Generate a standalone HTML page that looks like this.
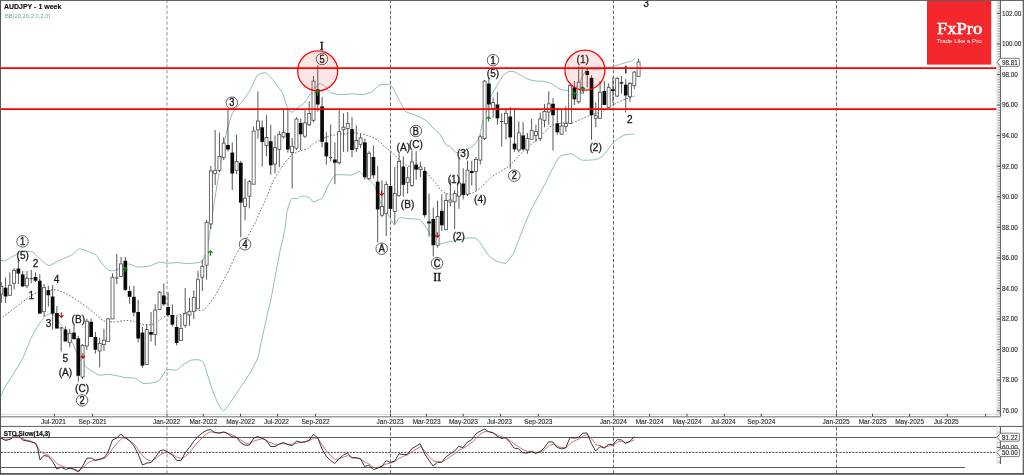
<!DOCTYPE html>
<html lang="en"><head><meta charset="utf-8"><title>AUDJPY - 1 week</title>
<style>
html,body{margin:0;padding:0;background:#fff;}
body{width:1024px;height:475px;overflow:hidden;}
svg{display:block;}
</style></head><body>
<svg width="1024" height="475" viewBox="0 0 1024 475" font-family="'Liberation Sans', Arial, sans-serif">
<rect width="1024" height="475" fill="#fff"/>
<g stroke="#5a5a5a" stroke-width="0.9" stroke-dasharray="3.5 1.9" fill="none">
<line x1="167" y1="-0.3" x2="167" y2="414" stroke-opacity="0.72"/>
<line x1="167" y1="427" x2="167" y2="473" stroke-opacity="0.72"/>
<line x1="390.5" y1="-0.3" x2="390.5" y2="414"/>
<line x1="390.5" y1="427" x2="390.5" y2="473"/>
<line x1="613.5" y1="-0.3" x2="613.5" y2="414"/>
<line x1="613.5" y1="427" x2="613.5" y2="473"/>
<line x1="836.5" y1="-0.3" x2="836.5" y2="414"/>
<line x1="836.5" y1="427" x2="836.5" y2="473"/>
</g>
<g fill="none" stroke-linejoin="round" stroke-linecap="round">
<path d="M0 260.1 C0.5 260.18 3.75 261.27 5 260.9 C6.25 260.53 10.75 257.3 12.5 256.4 C14.25 255.5 20.49 252.35 22.5 251.9 C24.51 251.45 30.85 251.2 32.6 251.9 C34.35 252.6 38.38 257.53 40 258.9 C41.62 260.27 46.79 265.48 48.8 265.6 C50.81 265.72 57.72 261.2 60.1 260.1 C62.48 259 70.72 255.73 72.6 254.6 C74.48 253.47 77.52 249.17 78.9 248.8 C80.28 248.43 84.9 250.39 86.4 250.9 C87.9 251.41 92.94 253.49 93.9 253.9 C94.86 254.31 95.16 254 96 255 C96.84 256 101.04 262.38 102.3 263.9 C103.56 265.42 107.21 269.57 108.6 270.2 C109.99 270.83 114.3 270.83 116.2 270.2 C118.1 269.57 125.45 264.22 127.6 263.9 C129.75 263.58 135.43 266.81 137.7 267 C139.97 267.19 148.15 266.3 150.3 265.8 C152.45 265.3 157.55 262.25 159.2 262 C160.85 261.75 165.03 263.24 166.8 263.3 C168.57 263.36 174.63 262.57 176.9 262.6 C179.17 262.63 186.98 263.72 189.5 263.6 C192.02 263.48 200.58 262.26 202.1 261.4 C203.62 260.54 204.19 256.14 204.7 255 C205.21 253.86 206.13 256 207.2 250 C208.27 244 213.62 206.1 215.4 195 C217.18 183.9 223.28 147.24 225 139 C226.72 130.76 230.84 116.36 232.6 112.6 C234.36 108.84 240.85 103.65 242.6 101.4 C244.35 99.15 248.6 92.73 250.1 90.1 C251.6 87.47 255.97 76.8 257.6 75.1 C259.23 73.4 264.63 72.31 266.4 73.1 C268.17 73.89 273.66 80.93 275.3 83 C276.94 85.07 281.59 91.33 282.8 93.8 C284.01 96.27 286.5 105.86 287.4 107.7 C288.3 109.54 290.85 112.13 291.8 112.2 C292.75 112.27 295.76 109.22 296.9 108.4 C298.04 107.58 301.81 105.46 303.2 104 C304.59 102.54 309.22 95.82 310.8 93.8 C312.38 91.78 317.68 84.62 319 83.8 C320.32 82.98 322.87 84.72 324 85.6 C325.13 86.48 328.67 91.7 330.3 92.6 C331.93 93.5 338.05 94.47 340.3 94.6 C342.55 94.73 350.55 93.9 352.8 93.9 C355.05 93.9 360.8 94.85 362.8 94.6 C364.8 94.35 371.17 92.35 372.8 91.4 C374.43 90.45 377.34 85.73 379.1 85.1 C380.86 84.47 388.77 84.35 390.4 85.1 C392.03 85.85 394.4 90.85 395.4 92.6 C396.4 94.35 399.4 100.72 400.4 102.6 C401.4 104.48 403.9 110.14 405.4 111.4 C406.9 112.66 413.39 114.32 415.4 115.2 C417.41 116.08 423.49 118.7 425.5 120.2 C427.51 121.7 434.05 128.8 435.5 130.2 C436.95 131.6 439.23 133.22 440 134.2 C440.77 135.18 442.57 138.92 443.2 140 C443.83 141.08 445.61 144.37 446.3 145 C446.99 145.63 449.21 145.6 450.1 146.3 C450.99 147 454.13 151.37 455.2 152 C456.27 152.63 459.54 152.92 460.8 152.6 C462.06 152.28 466.6 149.43 467.8 148.8 C469 148.17 471.79 147.18 472.8 146.3 C473.81 145.42 477.22 140.98 477.9 140 C478.58 139.02 479.09 138.47 479.6 136.5 C480.11 134.53 482.22 123.19 483 120.3 C483.78 117.41 486.65 109.93 487.4 107.6 C488.15 105.27 489.68 98.96 490.5 97 C491.32 95.04 494.33 90.16 495.6 88 C496.87 85.84 501.87 77.04 503.2 75.4 C504.53 73.76 507.83 71.98 508.9 71.6 C509.97 71.22 512.7 71.22 513.9 71.6 C515.1 71.98 519.45 74.62 520.9 75.4 C522.35 76.18 526.89 78.84 528.4 79.4 C529.91 79.96 534.48 80.8 536 81 C537.52 81.2 542.08 81.14 543.6 81.4 C545.12 81.66 549.68 82.88 551.2 83.6 C552.72 84.32 557.16 87.91 558.8 88.6 C560.44 89.29 565.84 90.7 567.6 90.5 C569.36 90.3 574.63 88.5 576.4 86.6 C578.17 84.7 584.16 73.26 585.3 71.5 C586.44 69.74 586.54 69.19 587.8 69 C589.06 68.81 595.38 69.86 597.9 69.6 C600.42 69.34 610.47 67.03 613 66.4 C615.53 65.77 621.42 63.8 623.2 63.3 C624.98 62.8 629.66 61.85 630.8 61.4 C631.94 60.95 634.22 59.06 634.6 58.8" stroke="#7fb3b3" stroke-width="0.9"/>
<path d="M0 397.9 C0.5 396.83 3.74 389.47 5 387.2 C6.26 384.93 10.89 377.97 12.6 375.2 C14.31 372.43 20.66 362.22 22.1 359.5 C23.54 356.78 26.06 350.22 27 348 C27.94 345.78 30.6 339.2 31.5 337.3 C32.4 335.4 35.05 330.58 36 329 C36.95 327.42 40.1 322.78 41 321.5 C41.9 320.22 44.24 316.93 45 316.2 C45.76 315.47 47.8 314.4 48.6 314.2 C49.4 314 51.92 313.37 53 314.2 C54.08 315.03 57.62 320.02 59.4 322.5 C61.18 324.98 68.91 335.59 70.8 339 C72.69 342.41 76.79 353.82 78.3 356.6 C79.81 359.38 84.13 365.09 85.9 366.8 C87.67 368.51 94.59 372.86 96 373.7 C97.41 374.54 98.72 375.13 100 375.2 C101.28 375.27 106.8 374.28 108.8 374.4 C110.8 374.52 118.38 376.07 120 376.4 C121.62 376.73 123.49 377.52 125 377.7 C126.51 377.88 133.34 377.65 135.1 378.2 C136.86 378.75 141.1 382.7 142.6 383.2 C144.1 383.7 148.47 383.45 150.1 383.2 C151.73 382.95 157.4 381.88 158.9 380.7 C160.4 379.52 164.1 372.53 165.1 371.4 C166.1 370.27 167.77 369.53 168.9 369.4 C170.03 369.27 175.02 370.53 176.4 370.1 C177.78 369.67 181.2 366.1 182.7 365.1 C184.2 364.1 189.65 360.6 191.4 360.1 C193.15 359.6 198.94 359.72 200.2 360.1 C201.46 360.48 203.25 362.39 204 363.9 C204.75 365.41 206.95 372.82 207.7 375.2 C208.45 377.58 210.5 384.95 211.5 387.7 C212.5 390.45 216.53 400.37 217.7 402.7 C218.87 405.03 221.94 411 223.2 411 C224.46 411 228.59 405.03 230.3 402.7 C232.01 400.37 238.3 390.71 240.3 387.7 C242.3 384.69 248.55 375.61 250.3 372.6 C252.05 369.59 256.55 361.35 257.8 357.6 C259.05 353.85 261.8 339.61 262.8 335.1 C263.8 330.59 267 316.01 267.8 312.5 C268.6 308.99 269.66 305.75 270.8 300 C271.94 294.25 277.93 261.4 279.2 255 C280.47 248.6 282.87 239 283.5 236 C284.13 233 285.14 227.46 285.5 225 C285.86 222.54 286.63 213.77 287.1 211.4 C287.57 209.03 289.7 202.59 290.2 201.3 C290.7 200.01 291.34 198.78 292.1 198.5 C292.86 198.22 296.98 198.72 297.8 198.5 C298.62 198.28 299.54 196.52 300.3 196.3 C301.06 196.08 304.45 196.15 305.4 196.3 C306.35 196.45 309.01 197.23 309.8 197.8 C310.59 198.37 312.32 201.84 313.3 202 C314.28 202.16 318.67 199.86 319.6 199.4 C320.53 198.94 321.66 198.92 322.6 197.4 C323.54 195.88 327.8 186.41 329 184.2 C330.2 181.99 333.34 176.25 334.6 175.3 C335.86 174.35 339.89 174.73 341.6 174.7 C343.31 174.67 349.93 175.32 351.7 175 C353.47 174.68 358.04 171.34 359.3 171.5 C360.56 171.66 363.29 175.71 364.3 176.6 C365.31 177.49 368.39 179.52 369.4 180.4 C370.41 181.28 373.52 183.76 374.4 185.4 C375.28 187.04 377.47 194.83 378.2 196.8 C378.93 198.77 380.72 203.38 381.7 205.1 C382.68 206.82 386.74 212.04 388 214 C389.26 215.96 393.16 224.33 394.3 224.7 C395.44 225.07 398.26 218.33 399.4 217.7 C400.54 217.07 404.06 218.27 405.7 218.4 C407.34 218.53 414.28 218.81 415.8 219 C417.32 219.19 419.76 219.29 420.9 220.3 C422.04 221.31 425.94 227.21 427.2 229.1 C428.46 230.99 432.36 237.68 433.5 239.2 C434.64 240.72 437.34 243.98 438.6 244.3 C439.86 244.62 444.33 242.78 446.1 242.4 C447.87 242.02 454.15 240.94 456.3 240.5 C458.45 240.06 465.65 238.22 467.6 238 C469.55 237.78 474.46 237.7 475.8 238.3 C477.14 238.9 479.73 242.3 481 244 C482.27 245.7 487 253.6 488.5 255.3 C490 257 494.45 260.21 496 261 C497.55 261.79 503.03 262.95 504 263.2 C504.97 263.45 505.3 263.77 505.7 263.5 C506.1 263.23 507.2 261.57 508 260.5 C508.8 259.43 512.05 256.35 513.7 252.8 C515.35 249.25 522.77 229.28 524.5 225 C526.23 220.72 529.85 212.45 531 210 C532.15 207.55 534.61 203.09 536 200.5 C537.39 197.91 543.13 187.51 544.9 184.1 C546.67 180.69 552.19 169.18 553.7 166.4 C555.21 163.62 558.61 157.5 560 156.3 C561.39 155.1 566.34 154.63 567.6 154.4 C568.86 154.17 571.21 153.44 572.6 154 C573.99 154.56 579.1 159.46 581.5 160 C583.9 160.54 594.33 159.97 596.6 159.4 C598.87 158.83 602.56 155.94 604.2 154.3 C605.84 152.66 611.1 144.89 613 143 C614.9 141.11 621.1 136.31 623.2 135.4 C625.3 134.49 632.92 134.05 634 133.9" stroke="#7fb3b3" stroke-width="0.9"/>
<path d="M0 319 C1.5 317.87 12 309.96 15 307.7 C18 305.44 27.74 297.9 30 296.4 C32.26 294.9 35.21 293.37 37.6 292.7 C39.99 292.03 51.15 289.65 53.9 289.7 C56.65 289.75 62.97 292.27 65.1 293.2 C67.23 294.13 72.94 297.55 75.2 299 C77.46 300.45 85.62 306.15 87.7 307.7 C89.78 309.25 94.41 313.19 96 314.5 C97.59 315.81 101.7 320.05 103.6 320.8 C105.5 321.55 112.86 322.04 115 322 C117.14 321.96 123.1 320.46 125 320.4 C126.9 320.34 132.22 320.98 134 321.4 C135.78 321.82 141.04 324.28 142.8 324.6 C144.56 324.92 149.96 325.04 151.6 324.6 C153.24 324.16 157.68 321.09 159.2 320.2 C160.72 319.31 165.03 316.15 166.8 315.7 C168.57 315.25 175.13 315.95 176.9 315.7 C178.67 315.45 182.73 313.7 184.5 313.2 C186.27 312.7 192.71 311.02 194.6 310.7 C196.49 310.38 202.01 310.57 203.4 310 C204.79 309.43 207.3 306.48 208.5 305 C209.7 303.52 213.62 298.18 215.4 295.2 C217.18 292.22 224.21 279.33 226.3 275.2 C228.39 271.07 234.33 257.47 236.3 253.9 C238.27 250.33 244.18 242.49 246 239.5 C247.82 236.51 253 227 254.5 224 C256 221 259.69 212.4 261 209.5 C262.31 206.6 266.41 197.78 267.6 195 C268.79 192.22 271.61 184.3 272.9 181.7 C274.19 179.1 278.99 171.27 280.5 169 C282.01 166.73 286.74 160.51 288 159 C289.26 157.49 291.83 154.73 293.1 153.9 C294.37 153.07 299.18 151.27 300.7 150.7 C302.22 150.13 307.04 148.89 308.3 148.2 C309.56 147.51 311.87 144.76 313.3 143.8 C314.73 142.84 320.78 139.44 322.6 138.6 C324.42 137.76 329.6 135.84 331.5 135.4 C333.4 134.96 339.58 134.45 341.6 134.2 C343.62 133.95 349.81 132.97 351.7 132.9 C353.59 132.83 358.73 133.19 360.5 133.5 C362.27 133.81 367.63 135.3 369.4 136 C371.17 136.7 376.56 139.3 378.2 140.5 C379.84 141.7 384.53 146.92 385.8 148 C387.07 149.08 389.63 150.21 390.9 151.3 C392.17 152.39 396.99 157.51 398.5 158.9 C400.01 160.29 404.49 164.38 406 165.2 C407.51 166.02 411.83 166.66 413.6 167.1 C415.37 167.54 422.06 168.65 423.7 169.6 C425.34 170.55 428.61 175.02 430 176.6 C431.39 178.18 436.6 184.14 437.6 185.4 C438.6 186.66 439.13 188.38 440 189.2 C440.87 190.02 444.78 193.03 446.3 193.6 C447.82 194.17 453.3 194.77 455.2 194.9 C457.1 195.03 463.41 195.16 465.3 194.9 C467.19 194.64 472.46 193.13 474.1 192.3 C475.74 191.47 480.06 188.05 481.7 186.6 C483.34 185.15 488.73 179.25 490.5 177.8 C492.27 176.35 497.5 173.3 499.4 172.1 C501.3 170.9 507.61 167.38 509.5 165.8 C511.39 164.22 516.91 157.75 518.3 156.3 C519.69 154.85 522.38 152.25 523.4 151.3 C524.42 150.35 526.98 148.13 528.5 146.8 C530.02 145.47 536.71 139.77 538.6 138 C540.49 136.23 545.89 130.43 547.4 129.1 C548.91 127.77 551.68 125.39 553.7 124.7 C555.72 124.01 565.71 122.4 567.6 122.2 C569.49 122 570.46 123.34 572.6 122.7 C574.74 122.06 585.84 117 589 115.8 C592.16 114.6 601.8 111.78 604.2 110.7 C606.6 109.62 611.1 106.07 613 105 C614.9 103.93 621.04 100.89 623.2 100 C625.36 99.11 633.46 96.49 634.6 96.1" stroke="#4c6464" stroke-width="0.9" stroke-dasharray="1.6 1.7" stroke-linecap="butt"/>
</g>
<g>
<line x1="1.3" y1="282" x2="1.3" y2="303" stroke="#444" stroke-width="0.9"/>
<rect x="-0.2" y="286.4" width="3" height="7.6" fill="#fff" stroke="#4a4a4a" stroke-width="0.8"/>
<line x1="5.58" y1="277.5" x2="5.58" y2="303" stroke="#444" stroke-width="0.9"/>
<rect x="3.73" y="287.7" width="3.7" height="8.8" fill="#0a0a0a"/>
<line x1="9.85" y1="272.5" x2="9.85" y2="295.3" stroke="#444" stroke-width="0.9"/>
<rect x="8.35" y="285.2" width="3" height="10.1" fill="#fff" stroke="#4a4a4a" stroke-width="0.8"/>
<line x1="14.13" y1="268" x2="14.13" y2="289.6" stroke="#444" stroke-width="0.9"/>
<rect x="12.63" y="270.5" width="3" height="12.8" fill="#fff" stroke="#4a4a4a" stroke-width="0.8"/>
<line x1="18.41" y1="258.5" x2="18.41" y2="284" stroke="#444" stroke-width="0.9"/>
<rect x="16.56" y="268.6" width="3.7" height="5" fill="#0a0a0a"/>
<line x1="22.69" y1="271" x2="22.69" y2="287" stroke="#444" stroke-width="0.9"/>
<rect x="20.84" y="274.4" width="3.7" height="12" fill="#0a0a0a"/>
<line x1="26.96" y1="271" x2="26.96" y2="288.3" stroke="#444" stroke-width="0.9"/>
<rect x="25.46" y="278.2" width="3" height="7.6" fill="#fff" stroke="#4a4a4a" stroke-width="0.8"/>
<line x1="31.24" y1="270" x2="31.24" y2="283.3" stroke="#444" stroke-width="0.9"/>
<line x1="29.54" y1="278.6" x2="32.94" y2="278.6" stroke="#444" stroke-width="1"/>
<line x1="35.52" y1="272.4" x2="35.52" y2="282" stroke="#444" stroke-width="0.9"/>
<rect x="33.67" y="277" width="3.7" height="3.7" fill="#0a0a0a"/>
<line x1="39.79" y1="274.3" x2="39.79" y2="313.6" stroke="#444" stroke-width="0.9"/>
<rect x="37.94" y="280.7" width="3.7" height="32.9" fill="#0a0a0a"/>
<line x1="44.07" y1="284" x2="44.07" y2="316.8" stroke="#444" stroke-width="0.9"/>
<rect x="42.57" y="287.7" width="3" height="24" fill="#fff" stroke="#4a4a4a" stroke-width="0.8"/>
<line x1="48.35" y1="285.8" x2="48.35" y2="306.6" stroke="#444" stroke-width="0.9"/>
<rect x="46.5" y="290.2" width="3.7" height="5.1" fill="#0a0a0a"/>
<line x1="52.62" y1="285.2" x2="52.62" y2="329.5" stroke="#444" stroke-width="0.9"/>
<rect x="50.77" y="296.5" width="3.7" height="17.1" fill="#0a0a0a"/>
<line x1="56.9" y1="306" x2="56.9" y2="328.5" stroke="#444" stroke-width="0.9"/>
<rect x="55.05" y="313" width="3.7" height="15.5" fill="#0a0a0a"/>
<line x1="61.18" y1="327" x2="61.18" y2="351.6" stroke="#444" stroke-width="0.9"/>
<line x1="59.48" y1="328" x2="62.88" y2="328" stroke="#444" stroke-width="1"/>
<line x1="65.45" y1="326.3" x2="65.45" y2="341.5" stroke="#444" stroke-width="0.9"/>
<rect x="63.6" y="329.5" width="3.7" height="12" fill="#0a0a0a"/>
<line x1="69.73" y1="328.8" x2="69.73" y2="347.2" stroke="#444" stroke-width="0.9"/>
<rect x="68.23" y="333.3" width="3" height="9.4" fill="#fff" stroke="#4a4a4a" stroke-width="0.8"/>
<line x1="74.01" y1="325" x2="74.01" y2="339.2" stroke="#444" stroke-width="0.9"/>
<rect x="72.16" y="332.6" width="3.7" height="6.6" fill="#0a0a0a"/>
<line x1="78.29" y1="335.8" x2="78.29" y2="381.5" stroke="#444" stroke-width="0.9"/>
<rect x="76.44" y="338.3" width="3.7" height="37.5" fill="#0a0a0a"/>
<line x1="82.56" y1="344" x2="82.56" y2="379" stroke="#444" stroke-width="0.9"/>
<rect x="81.06" y="345.3" width="3" height="31.7" fill="#fff" stroke="#4a4a4a" stroke-width="0.8"/>
<line x1="86.84" y1="318.6" x2="86.84" y2="350" stroke="#444" stroke-width="0.9"/>
<rect x="85.34" y="321.2" width="3" height="24.8" fill="#fff" stroke="#4a4a4a" stroke-width="0.8"/>
<line x1="91.12" y1="318.6" x2="91.12" y2="337" stroke="#444" stroke-width="0.9"/>
<rect x="89.27" y="321.8" width="3.7" height="15.2" fill="#0a0a0a"/>
<line x1="95.39" y1="332" x2="95.39" y2="353.5" stroke="#444" stroke-width="0.9"/>
<rect x="93.54" y="337" width="3.7" height="12.7" fill="#0a0a0a"/>
<line x1="99.67" y1="337.7" x2="99.67" y2="367.4" stroke="#444" stroke-width="0.9"/>
<rect x="98.17" y="343.4" width="3" height="7.6" fill="#fff" stroke="#4a4a4a" stroke-width="0.8"/>
<line x1="103.95" y1="328.8" x2="103.95" y2="351" stroke="#444" stroke-width="0.9"/>
<rect x="102.45" y="340.2" width="3" height="4.4" fill="#fff" stroke="#4a4a4a" stroke-width="0.8"/>
<line x1="108.22" y1="318" x2="108.22" y2="341.5" stroke="#444" stroke-width="0.9"/>
<rect x="106.72" y="318.9" width="3" height="22.6" fill="#fff" stroke="#4a4a4a" stroke-width="0.8"/>
<line x1="112.5" y1="273.4" x2="112.5" y2="318.9" stroke="#444" stroke-width="0.9"/>
<rect x="111" y="277.2" width="3" height="41.7" fill="#fff" stroke="#4a4a4a" stroke-width="0.8"/>
<line x1="116.78" y1="253.8" x2="116.78" y2="284.1" stroke="#444" stroke-width="0.9"/>
<line x1="115.08" y1="278" x2="118.48" y2="278" stroke="#444" stroke-width="1"/>
<line x1="121.06" y1="257" x2="121.06" y2="277" stroke="#444" stroke-width="0.9"/>
<rect x="119.56" y="263.9" width="3" height="12.6" fill="#fff" stroke="#4a4a4a" stroke-width="0.8"/>
<line x1="125.33" y1="257" x2="125.33" y2="291" stroke="#444" stroke-width="0.9"/>
<rect x="123.48" y="260.7" width="3.7" height="29.1" fill="#0a0a0a"/>
<line x1="129.61" y1="286" x2="129.61" y2="303.7" stroke="#444" stroke-width="0.9"/>
<rect x="127.76" y="291" width="3.7" height="5.8" fill="#0a0a0a"/>
<line x1="133.89" y1="286" x2="133.89" y2="316.4" stroke="#444" stroke-width="0.9"/>
<rect x="132.04" y="296.8" width="3.7" height="15.8" fill="#0a0a0a"/>
<line x1="138.16" y1="300" x2="138.16" y2="342.3" stroke="#444" stroke-width="0.9"/>
<rect x="136.31" y="312" width="3.7" height="26.5" fill="#0a0a0a"/>
<line x1="142.44" y1="327" x2="142.44" y2="367.6" stroke="#444" stroke-width="0.9"/>
<rect x="140.59" y="332.6" width="3.7" height="33" fill="#0a0a0a"/>
<line x1="146.72" y1="324" x2="146.72" y2="364.4" stroke="#444" stroke-width="0.9"/>
<rect x="145.22" y="329.6" width="3" height="34.8" fill="#fff" stroke="#4a4a4a" stroke-width="0.8"/>
<line x1="151" y1="312" x2="151" y2="341.6" stroke="#444" stroke-width="0.9"/>
<rect x="149.15" y="332" width="3.7" height="2.7" fill="#0a0a0a"/>
<line x1="155.27" y1="304.3" x2="155.27" y2="345.4" stroke="#444" stroke-width="0.9"/>
<rect x="153.77" y="310" width="3" height="24.7" fill="#fff" stroke="#4a4a4a" stroke-width="0.8"/>
<line x1="159.55" y1="291" x2="159.55" y2="310" stroke="#444" stroke-width="0.9"/>
<rect x="158.05" y="292.3" width="3" height="17.1" fill="#fff" stroke="#4a4a4a" stroke-width="0.8"/>
<line x1="163.83" y1="283.5" x2="163.83" y2="306" stroke="#444" stroke-width="0.9"/>
<rect x="161.98" y="295.5" width="3.7" height="8.8" fill="#0a0a0a"/>
<line x1="168.1" y1="292.3" x2="168.1" y2="317" stroke="#444" stroke-width="0.9"/>
<rect x="166.25" y="307" width="3.7" height="8" fill="#0a0a0a"/>
<line x1="172.38" y1="304.3" x2="172.38" y2="326.5" stroke="#444" stroke-width="0.9"/>
<rect x="170.53" y="315" width="3.7" height="9.6" fill="#0a0a0a"/>
<line x1="176.66" y1="316.4" x2="176.66" y2="345.4" stroke="#444" stroke-width="0.9"/>
<rect x="174.81" y="327" width="3.7" height="16" fill="#0a0a0a"/>
<line x1="180.93" y1="315" x2="180.93" y2="340.4" stroke="#444" stroke-width="0.9"/>
<rect x="179.43" y="328.4" width="3" height="12" fill="#fff" stroke="#4a4a4a" stroke-width="0.8"/>
<line x1="185.21" y1="288" x2="185.21" y2="327.7" stroke="#444" stroke-width="0.9"/>
<rect x="183.71" y="313.8" width="3" height="11.4" fill="#fff" stroke="#4a4a4a" stroke-width="0.8"/>
<line x1="189.49" y1="298" x2="189.49" y2="325.8" stroke="#444" stroke-width="0.9"/>
<rect x="187.99" y="311.3" width="3" height="3.7" fill="#fff" stroke="#4a4a4a" stroke-width="0.8"/>
<line x1="193.77" y1="290.4" x2="193.77" y2="319" stroke="#444" stroke-width="0.9"/>
<rect x="192.27" y="297.4" width="3" height="13.9" fill="#fff" stroke="#4a4a4a" stroke-width="0.8"/>
<line x1="198.04" y1="270.8" x2="198.04" y2="308.8" stroke="#444" stroke-width="0.9"/>
<rect x="196.54" y="279.7" width="3" height="29.1" fill="#fff" stroke="#4a4a4a" stroke-width="0.8"/>
<line x1="202.32" y1="259.5" x2="202.32" y2="291" stroke="#444" stroke-width="0.9"/>
<rect x="200.82" y="266.4" width="3" height="10.8" fill="#fff" stroke="#4a4a4a" stroke-width="0.8"/>
<line x1="206.6" y1="220" x2="206.6" y2="279.7" stroke="#444" stroke-width="0.9"/>
<rect x="205.1" y="222.2" width="3" height="43" fill="#fff" stroke="#4a4a4a" stroke-width="0.8"/>
<line x1="210.87" y1="166" x2="210.87" y2="229" stroke="#444" stroke-width="0.9"/>
<rect x="209.37" y="171" width="3" height="53" fill="#fff" stroke="#4a4a4a" stroke-width="0.8"/>
<line x1="215.15" y1="129.9" x2="215.15" y2="185" stroke="#444" stroke-width="0.9"/>
<rect x="213.65" y="170.3" width="3" height="3.2" fill="#fff" stroke="#4a4a4a" stroke-width="0.8"/>
<line x1="219.43" y1="132.4" x2="219.43" y2="172" stroke="#444" stroke-width="0.9"/>
<rect x="217.93" y="156.4" width="3" height="13.9" fill="#fff" stroke="#4a4a4a" stroke-width="0.8"/>
<line x1="223.7" y1="137.4" x2="223.7" y2="160" stroke="#444" stroke-width="0.9"/>
<rect x="222.2" y="143.1" width="3" height="14.6" fill="#fff" stroke="#4a4a4a" stroke-width="0.8"/>
<line x1="227.98" y1="109.6" x2="227.98" y2="151.4" stroke="#444" stroke-width="0.9"/>
<rect x="226.13" y="145" width="3.7" height="4.5" fill="#0a0a0a"/>
<line x1="232.26" y1="142.5" x2="232.26" y2="190" stroke="#444" stroke-width="0.9"/>
<rect x="230.41" y="152.6" width="3.7" height="20.9" fill="#0a0a0a"/>
<line x1="236.54" y1="135" x2="236.54" y2="174" stroke="#444" stroke-width="0.9"/>
<rect x="235.04" y="161.5" width="3" height="8.8" fill="#fff" stroke="#4a4a4a" stroke-width="0.8"/>
<line x1="240.81" y1="160.8" x2="240.81" y2="237.3" stroke="#444" stroke-width="0.9"/>
<rect x="238.96" y="162.7" width="3.7" height="39.9" fill="#0a0a0a"/>
<line x1="245.09" y1="178.5" x2="245.09" y2="220.3" stroke="#444" stroke-width="0.9"/>
<rect x="243.59" y="198.1" width="3" height="8.3" fill="#fff" stroke="#4a4a4a" stroke-width="0.8"/>
<line x1="249.37" y1="180" x2="249.37" y2="208.3" stroke="#444" stroke-width="0.9"/>
<rect x="247.87" y="181.7" width="3" height="14.5" fill="#fff" stroke="#4a4a4a" stroke-width="0.8"/>
<line x1="253.64" y1="126.7" x2="253.64" y2="184.2" stroke="#444" stroke-width="0.9"/>
<rect x="252.14" y="131.1" width="3" height="53.1" fill="#fff" stroke="#4a4a4a" stroke-width="0.8"/>
<line x1="257.92" y1="91.3" x2="257.92" y2="138.7" stroke="#444" stroke-width="0.9"/>
<rect x="256.42" y="121" width="3" height="8.9" fill="#fff" stroke="#4a4a4a" stroke-width="0.8"/>
<line x1="262.2" y1="120.4" x2="262.2" y2="166.5" stroke="#444" stroke-width="0.9"/>
<rect x="260.35" y="127.3" width="3.7" height="14.6" fill="#0a0a0a"/>
<line x1="266.47" y1="115.3" x2="266.47" y2="156.4" stroke="#444" stroke-width="0.9"/>
<rect x="264.97" y="137.4" width="3" height="8.3" fill="#fff" stroke="#4a4a4a" stroke-width="0.8"/>
<line x1="270.75" y1="124.8" x2="270.75" y2="174.7" stroke="#444" stroke-width="0.9"/>
<rect x="268.9" y="141.2" width="3.7" height="24.1" fill="#0a0a0a"/>
<line x1="275.03" y1="135.5" x2="275.03" y2="173.5" stroke="#444" stroke-width="0.9"/>
<rect x="273.53" y="147.6" width="3" height="16.4" fill="#fff" stroke="#4a4a4a" stroke-width="0.8"/>
<line x1="279.31" y1="131.1" x2="279.31" y2="167.2" stroke="#444" stroke-width="0.9"/>
<rect x="277.81" y="134.3" width="3" height="15.2" fill="#fff" stroke="#4a4a4a" stroke-width="0.8"/>
<line x1="283.58" y1="109.6" x2="283.58" y2="138.5" stroke="#444" stroke-width="0.9"/>
<rect x="282.08" y="132.4" width="3" height="4.4" fill="#fff" stroke="#4a4a4a" stroke-width="0.8"/>
<line x1="287.86" y1="109.6" x2="287.86" y2="152.6" stroke="#444" stroke-width="0.9"/>
<rect x="286.01" y="133" width="3.7" height="16.5" fill="#0a0a0a"/>
<line x1="292.14" y1="138" x2="292.14" y2="188.6" stroke="#444" stroke-width="0.9"/>
<rect x="290.64" y="146.3" width="3" height="6.3" fill="#fff" stroke="#4a4a4a" stroke-width="0.8"/>
<line x1="296.41" y1="117.2" x2="296.41" y2="150" stroke="#444" stroke-width="0.9"/>
<rect x="294.91" y="119.1" width="3" height="29.1" fill="#fff" stroke="#4a4a4a" stroke-width="0.8"/>
<line x1="300.69" y1="118.5" x2="300.69" y2="150" stroke="#444" stroke-width="0.9"/>
<rect x="298.84" y="122.9" width="3.7" height="11.4" fill="#0a0a0a"/>
<line x1="304.97" y1="110.3" x2="304.97" y2="138" stroke="#444" stroke-width="0.9"/>
<rect x="303.47" y="122.9" width="3" height="13.3" fill="#fff" stroke="#4a4a4a" stroke-width="0.8"/>
<line x1="309.24" y1="101.4" x2="309.24" y2="126" stroke="#444" stroke-width="0.9"/>
<rect x="307.74" y="113.4" width="3" height="11.4" fill="#fff" stroke="#4a4a4a" stroke-width="0.8"/>
<line x1="313.52" y1="76" x2="313.52" y2="122.3" stroke="#444" stroke-width="0.9"/>
<rect x="312.02" y="81.1" width="3" height="39.2" fill="#fff" stroke="#4a4a4a" stroke-width="0.8"/>
<line x1="317.8" y1="65" x2="317.8" y2="111.5" stroke="#444" stroke-width="0.9"/>
<rect x="315.95" y="89.3" width="3.7" height="15.2" fill="#0a0a0a"/>
<line x1="322.08" y1="96.9" x2="322.08" y2="147.4" stroke="#444" stroke-width="0.9"/>
<rect x="320.23" y="106.4" width="3.7" height="35.4" fill="#0a0a0a"/>
<line x1="326.35" y1="132.3" x2="326.35" y2="164.6" stroke="#444" stroke-width="0.9"/>
<rect x="324.5" y="142.4" width="3.7" height="14" fill="#0a0a0a"/>
<line x1="330.63" y1="124.7" x2="330.63" y2="161.4" stroke="#444" stroke-width="0.9"/>
<line x1="328.93" y1="157.6" x2="332.33" y2="157.6" stroke="#444" stroke-width="1"/>
<line x1="334.91" y1="142.4" x2="334.91" y2="184.2" stroke="#444" stroke-width="0.9"/>
<rect x="333.06" y="159.5" width="3.7" height="3.2" fill="#0a0a0a"/>
<line x1="339.18" y1="110.2" x2="339.18" y2="164.6" stroke="#444" stroke-width="0.9"/>
<rect x="337.68" y="131.6" width="3" height="31.1" fill="#fff" stroke="#4a4a4a" stroke-width="0.8"/>
<line x1="343.46" y1="113.3" x2="343.46" y2="151.9" stroke="#444" stroke-width="0.9"/>
<rect x="341.96" y="127.2" width="3" height="2.5" fill="#fff" stroke="#4a4a4a" stroke-width="0.8"/>
<line x1="347.74" y1="112" x2="347.74" y2="151.9" stroke="#444" stroke-width="0.9"/>
<rect x="346.24" y="123.4" width="3" height="5.1" fill="#fff" stroke="#4a4a4a" stroke-width="0.8"/>
<line x1="352.01" y1="117.1" x2="352.01" y2="157" stroke="#444" stroke-width="0.9"/>
<rect x="350.16" y="129.1" width="3.7" height="20.9" fill="#0a0a0a"/>
<line x1="356.29" y1="125.3" x2="356.29" y2="151.9" stroke="#444" stroke-width="0.9"/>
<rect x="354.79" y="140.5" width="3" height="8.2" fill="#fff" stroke="#4a4a4a" stroke-width="0.8"/>
<line x1="360.57" y1="133.5" x2="360.57" y2="148" stroke="#444" stroke-width="0.9"/>
<rect x="359.07" y="138" width="3" height="6.3" fill="#fff" stroke="#4a4a4a" stroke-width="0.8"/>
<line x1="364.85" y1="138.6" x2="364.85" y2="179.7" stroke="#444" stroke-width="0.9"/>
<rect x="363" y="142.4" width="3.7" height="34.8" fill="#0a0a0a"/>
<line x1="369.12" y1="151" x2="369.12" y2="180" stroke="#444" stroke-width="0.9"/>
<rect x="367.62" y="153.2" width="3" height="25.3" fill="#fff" stroke="#4a4a4a" stroke-width="0.8"/>
<line x1="373.4" y1="145.5" x2="373.4" y2="178.5" stroke="#444" stroke-width="0.9"/>
<rect x="371.55" y="157" width="3.7" height="18.3" fill="#0a0a0a"/>
<line x1="377.68" y1="165.8" x2="377.68" y2="242.4" stroke="#444" stroke-width="0.9"/>
<rect x="375.83" y="181.6" width="3.7" height="27.9" fill="#0a0a0a"/>
<line x1="381.95" y1="180.4" x2="381.95" y2="217" stroke="#444" stroke-width="0.9"/>
<rect x="380.45" y="206.4" width="3" height="8.8" fill="#fff" stroke="#4a4a4a" stroke-width="0.8"/>
<line x1="386.23" y1="181.3" x2="386.23" y2="236" stroke="#444" stroke-width="0.9"/>
<rect x="384.73" y="184.5" width="3" height="28.8" fill="#fff" stroke="#4a4a4a" stroke-width="0.8"/>
<line x1="390.51" y1="154.5" x2="390.51" y2="217" stroke="#444" stroke-width="0.9"/>
<rect x="388.66" y="186" width="3.7" height="22.9" fill="#0a0a0a"/>
<line x1="394.78" y1="167" x2="394.78" y2="224.7" stroke="#444" stroke-width="0.9"/>
<rect x="393.28" y="193.6" width="3" height="17.8" fill="#fff" stroke="#4a4a4a" stroke-width="0.8"/>
<line x1="399.06" y1="153.8" x2="399.06" y2="197" stroke="#444" stroke-width="0.9"/>
<rect x="397.56" y="161.4" width="3" height="34.1" fill="#fff" stroke="#4a4a4a" stroke-width="0.8"/>
<line x1="403.34" y1="156.4" x2="403.34" y2="196.8" stroke="#444" stroke-width="0.9"/>
<rect x="401.49" y="166.5" width="3.7" height="18.3" fill="#0a0a0a"/>
<line x1="407.62" y1="167" x2="407.62" y2="193.6" stroke="#444" stroke-width="0.9"/>
<rect x="406.12" y="177.9" width="3" height="4.4" fill="#fff" stroke="#4a4a4a" stroke-width="0.8"/>
<line x1="411.89" y1="150.7" x2="411.89" y2="187" stroke="#444" stroke-width="0.9"/>
<rect x="410.39" y="162" width="3" height="23.4" fill="#fff" stroke="#4a4a4a" stroke-width="0.8"/>
<line x1="416.17" y1="151.3" x2="416.17" y2="179.7" stroke="#444" stroke-width="0.9"/>
<rect x="414.32" y="164.6" width="3.7" height="5" fill="#0a0a0a"/>
<line x1="420.45" y1="162" x2="420.45" y2="177.2" stroke="#444" stroke-width="0.9"/>
<rect x="418.95" y="167" width="3" height="2.6" fill="#fff" stroke="#4a4a4a" stroke-width="0.8"/>
<line x1="424.72" y1="167" x2="424.72" y2="217.7" stroke="#444" stroke-width="0.9"/>
<rect x="422.87" y="170.9" width="3.7" height="44.3" fill="#0a0a0a"/>
<line x1="429" y1="193.6" x2="429" y2="236.7" stroke="#444" stroke-width="0.9"/>
<rect x="427.15" y="221.5" width="3.7" height="1.9" fill="#0a0a0a"/>
<line x1="433.28" y1="207.6" x2="433.28" y2="256.6" stroke="#444" stroke-width="0.9"/>
<rect x="431.43" y="219" width="3.7" height="26.2" fill="#0a0a0a"/>
<line x1="437.55" y1="200.7" x2="437.55" y2="247.7" stroke="#444" stroke-width="0.9"/>
<rect x="436.05" y="216.5" width="3" height="28.7" fill="#fff" stroke="#4a4a4a" stroke-width="0.8"/>
<line x1="441.83" y1="194.2" x2="441.83" y2="231" stroke="#444" stroke-width="0.9"/>
<rect x="439.98" y="210.8" width="3.7" height="14.5" fill="#0a0a0a"/>
<line x1="446.11" y1="193.6" x2="446.11" y2="229.7" stroke="#444" stroke-width="0.9"/>
<rect x="444.61" y="200.5" width="3" height="29.2" fill="#fff" stroke="#4a4a4a" stroke-width="0.8"/>
<line x1="450.39" y1="179.7" x2="450.39" y2="206.4" stroke="#444" stroke-width="0.9"/>
<rect x="448.89" y="200" width="3" height="2" fill="#fff" stroke="#4a4a4a" stroke-width="0.8"/>
<line x1="454.66" y1="190" x2="454.66" y2="229" stroke="#444" stroke-width="0.9"/>
<rect x="453.16" y="193.6" width="3" height="8.2" fill="#fff" stroke="#4a4a4a" stroke-width="0.8"/>
<line x1="458.94" y1="158.2" x2="458.94" y2="208.9" stroke="#444" stroke-width="0.9"/>
<rect x="457.44" y="182.9" width="3" height="13.2" fill="#fff" stroke="#4a4a4a" stroke-width="0.8"/>
<line x1="463.22" y1="168.3" x2="463.22" y2="199.3" stroke="#444" stroke-width="0.9"/>
<rect x="461.37" y="183.5" width="3.7" height="11.4" fill="#0a0a0a"/>
<line x1="467.49" y1="160.7" x2="467.49" y2="196" stroke="#444" stroke-width="0.9"/>
<rect x="465.99" y="170.2" width="3" height="24" fill="#fff" stroke="#4a4a4a" stroke-width="0.8"/>
<line x1="471.77" y1="160.7" x2="471.77" y2="185.4" stroke="#444" stroke-width="0.9"/>
<rect x="469.92" y="171" width="3.7" height="2" fill="#0a0a0a"/>
<line x1="476.05" y1="157" x2="476.05" y2="191" stroke="#444" stroke-width="0.9"/>
<rect x="474.55" y="159.5" width="3" height="12" fill="#fff" stroke="#4a4a4a" stroke-width="0.8"/>
<line x1="480.32" y1="135" x2="480.32" y2="164.5" stroke="#444" stroke-width="0.9"/>
<rect x="478.82" y="136.7" width="3" height="23.4" fill="#fff" stroke="#4a4a4a" stroke-width="0.8"/>
<line x1="484.6" y1="80" x2="484.6" y2="140" stroke="#444" stroke-width="0.9"/>
<rect x="483.1" y="81.1" width="3" height="57.5" fill="#fff" stroke="#4a4a4a" stroke-width="0.8"/>
<line x1="488.88" y1="78" x2="488.88" y2="115.8" stroke="#444" stroke-width="0.9"/>
<rect x="487.03" y="83.6" width="3.7" height="20.9" fill="#0a0a0a"/>
<line x1="493.16" y1="97.5" x2="493.16" y2="117.7" stroke="#444" stroke-width="0.9"/>
<rect x="491.66" y="102.6" width="3" height="5.7" fill="#fff" stroke="#4a4a4a" stroke-width="0.8"/>
<line x1="497.43" y1="91.8" x2="497.43" y2="124.7" stroke="#444" stroke-width="0.9"/>
<rect x="495.58" y="104.5" width="3.7" height="13.9" fill="#0a0a0a"/>
<line x1="501.71" y1="113.3" x2="501.71" y2="146.8" stroke="#444" stroke-width="0.9"/>
<line x1="500.01" y1="121.5" x2="503.41" y2="121.5" stroke="#444" stroke-width="1"/>
<line x1="505.99" y1="108.3" x2="505.99" y2="139.2" stroke="#444" stroke-width="0.9"/>
<rect x="504.49" y="113.3" width="3" height="10.1" fill="#fff" stroke="#4a4a4a" stroke-width="0.8"/>
<line x1="510.26" y1="107" x2="510.26" y2="169" stroke="#444" stroke-width="0.9"/>
<rect x="508.41" y="116.5" width="3.7" height="20.8" fill="#0a0a0a"/>
<line x1="514.54" y1="107.6" x2="514.54" y2="151.9" stroke="#444" stroke-width="0.9"/>
<rect x="512.69" y="143.6" width="3.7" height="5.7" fill="#0a0a0a"/>
<line x1="518.82" y1="121.5" x2="518.82" y2="152.5" stroke="#444" stroke-width="0.9"/>
<rect x="517.32" y="132.9" width="3" height="17.1" fill="#fff" stroke="#4a4a4a" stroke-width="0.8"/>
<line x1="523.09" y1="122.2" x2="523.09" y2="150.6" stroke="#444" stroke-width="0.9"/>
<rect x="521.24" y="135.4" width="3.7" height="13.9" fill="#0a0a0a"/>
<line x1="527.37" y1="132.9" x2="527.37" y2="153.8" stroke="#444" stroke-width="0.9"/>
<rect x="525.87" y="138.6" width="3" height="11.4" fill="#fff" stroke="#4a4a4a" stroke-width="0.8"/>
<line x1="531.65" y1="119" x2="531.65" y2="139.2" stroke="#444" stroke-width="0.9"/>
<rect x="530.15" y="130.4" width="3" height="8.8" fill="#fff" stroke="#4a4a4a" stroke-width="0.8"/>
<line x1="535.92" y1="124.7" x2="535.92" y2="141.8" stroke="#444" stroke-width="0.9"/>
<rect x="534.42" y="131.6" width="3" height="3.8" fill="#fff" stroke="#4a4a4a" stroke-width="0.8"/>
<line x1="540.2" y1="112.7" x2="540.2" y2="141.1" stroke="#444" stroke-width="0.9"/>
<rect x="538.7" y="119" width="3" height="19.6" fill="#fff" stroke="#4a4a4a" stroke-width="0.8"/>
<line x1="544.48" y1="103.8" x2="544.48" y2="127.2" stroke="#444" stroke-width="0.9"/>
<rect x="542.98" y="111.4" width="3" height="8.9" fill="#fff" stroke="#4a4a4a" stroke-width="0.8"/>
<line x1="548.76" y1="91.2" x2="548.76" y2="124.7" stroke="#444" stroke-width="0.9"/>
<rect x="547.26" y="103.8" width="3" height="8.2" fill="#fff" stroke="#4a4a4a" stroke-width="0.8"/>
<line x1="553.03" y1="98" x2="553.03" y2="150.6" stroke="#444" stroke-width="0.9"/>
<rect x="551.18" y="103.8" width="3.7" height="11.4" fill="#0a0a0a"/>
<line x1="557.31" y1="107.6" x2="557.31" y2="134.8" stroke="#444" stroke-width="0.9"/>
<rect x="555.46" y="123.4" width="3.7" height="8.9" fill="#0a0a0a"/>
<line x1="561.59" y1="109.5" x2="561.59" y2="134.8" stroke="#444" stroke-width="0.9"/>
<rect x="560.09" y="126" width="3" height="8.2" fill="#fff" stroke="#4a4a4a" stroke-width="0.8"/>
<line x1="565.86" y1="106.3" x2="565.86" y2="131.6" stroke="#444" stroke-width="0.9"/>
<rect x="564.36" y="123.4" width="3" height="3.1" fill="#fff" stroke="#4a4a4a" stroke-width="0.8"/>
<line x1="570.14" y1="84" x2="570.14" y2="124" stroke="#444" stroke-width="0.9"/>
<rect x="568.64" y="85.4" width="3" height="38" fill="#fff" stroke="#4a4a4a" stroke-width="0.8"/>
<line x1="574.42" y1="81" x2="574.42" y2="105" stroke="#444" stroke-width="0.9"/>
<rect x="572.57" y="87.3" width="3.7" height="12" fill="#0a0a0a"/>
<line x1="578.69" y1="66.4" x2="578.69" y2="103.7" stroke="#444" stroke-width="0.9"/>
<rect x="577.19" y="82.2" width="3" height="19.6" fill="#fff" stroke="#4a4a4a" stroke-width="0.8"/>
<line x1="582.17" y1="66.3" x2="582.17" y2="93" stroke="#444" stroke-width="0.9"/>
<rect x="580.67" y="87.5" width="3" height="5.5" fill="#fff" stroke="#4a4a4a" stroke-width="0.8"/>
<line x1="587.25" y1="69" x2="587.25" y2="87.3" stroke="#444" stroke-width="0.9"/>
<rect x="585.4" y="71" width="3.7" height="4" fill="#0a0a0a"/>
<line x1="591.53" y1="75.3" x2="591.53" y2="139.8" stroke="#444" stroke-width="0.9"/>
<rect x="589.68" y="77.8" width="3.7" height="37.4" fill="#0a0a0a"/>
<line x1="595.8" y1="102.5" x2="595.8" y2="127.2" stroke="#444" stroke-width="0.9"/>
<rect x="594.3" y="115.8" width="3" height="2.5" fill="#fff" stroke="#4a4a4a" stroke-width="0.8"/>
<line x1="600.08" y1="81" x2="600.08" y2="118.3" stroke="#444" stroke-width="0.9"/>
<rect x="598.58" y="92.3" width="3" height="26" fill="#fff" stroke="#4a4a4a" stroke-width="0.8"/>
<line x1="604.36" y1="81" x2="604.36" y2="105" stroke="#444" stroke-width="0.9"/>
<rect x="602.51" y="91" width="3.7" height="14" fill="#0a0a0a"/>
<line x1="608.63" y1="83.5" x2="608.63" y2="108" stroke="#444" stroke-width="0.9"/>
<rect x="607.13" y="87.3" width="3" height="20.2" fill="#fff" stroke="#4a4a4a" stroke-width="0.8"/>
<line x1="612.91" y1="77.2" x2="612.91" y2="103" stroke="#444" stroke-width="0.9"/>
<rect x="611.06" y="89.2" width="3.7" height="1.8" fill="#0a0a0a"/>
<line x1="617.19" y1="77" x2="617.19" y2="97" stroke="#444" stroke-width="0.9"/>
<rect x="615.69" y="78.4" width="3" height="17.7" fill="#fff" stroke="#4a4a4a" stroke-width="0.8"/>
<line x1="621.46" y1="76" x2="621.46" y2="93.6" stroke="#444" stroke-width="0.9"/>
<rect x="619.61" y="82.2" width="3.7" height="1.3" fill="#0a0a0a"/>
<line x1="625.74" y1="79" x2="625.74" y2="112.6" stroke="#444" stroke-width="0.9"/>
<rect x="623.89" y="84.7" width="3.7" height="10.8" fill="#0a0a0a"/>
<line x1="630.02" y1="82" x2="630.02" y2="101.8" stroke="#444" stroke-width="0.9"/>
<rect x="628.52" y="83.5" width="3" height="13.3" fill="#fff" stroke="#4a4a4a" stroke-width="0.8"/>
<line x1="634.3" y1="71" x2="634.3" y2="89.2" stroke="#444" stroke-width="0.9"/>
<rect x="632.8" y="72.1" width="3" height="13.3" fill="#fff" stroke="#4a4a4a" stroke-width="0.8"/>
<line x1="638.57" y1="58.8" x2="638.57" y2="77" stroke="#444" stroke-width="0.9"/>
<rect x="637.07" y="62" width="3" height="14.5" fill="#fff" stroke="#4a4a4a" stroke-width="0.8"/>
</g>
<g font-size="11" fill="#1a1a1a" stroke="#1a1a1a" stroke-width="0.3" text-anchor="middle">
<text transform="translate(22.7 259.2) scale(0.92 1)">(5)</text>
<text transform="translate(35.6 267.4) scale(0.92 1)">2</text>
<text transform="translate(56.6 283.2) scale(0.92 1)">4</text>
<text transform="translate(31.3 299.2) scale(0.92 1)">1</text>
<text transform="translate(48.6 326.9) scale(0.92 1)">3</text>
<text transform="translate(78.3 322.5) scale(0.92 1)">(B)</text>
<text transform="translate(65.4 361.9) scale(0.92 1)">5</text>
<text transform="translate(65.4 375.7) scale(0.92 1)">(A)</text>
<text transform="translate(82.1 391.7) scale(0.92 1)">(C)</text>
<text transform="translate(403.3 151.3) scale(0.92 1)">(A)</text>
<text transform="translate(415.9 147.5) scale(0.92 1)">(C)</text>
<text transform="translate(407.6 208.4) scale(0.92 1)">(B)</text>
<text transform="translate(458.8 240.3) scale(0.92 1)">(2)</text>
<text transform="translate(453.9 182.7) scale(0.92 1)">(1)</text>
<text transform="translate(463.1 157.1) scale(0.92 1)">(3)</text>
<text transform="translate(480.2 203.2) scale(0.92 1)">(4)</text>
<text transform="translate(493 77.4) scale(0.92 1)">(5)</text>
<text transform="translate(582.7 63) scale(0.92 1)">(1)</text>
<text transform="translate(595.6 150.7) scale(0.92 1)">(2)</text>
<text transform="translate(629.9 122.9) scale(0.92 1)">2</text>
<text transform="translate(646 6.9) scale(0.92 1)">3</text>
</g>
<g font-size="10" fill="#1a1a1a" text-anchor="middle">
<circle cx="22.5" cy="241.4" r="5.75" fill="#fff" stroke="#3a3a3a" stroke-width="0.8"/>
<text transform="translate(22.5 244.95) scale(0.92 1)" stroke="#1a1a1a" stroke-width="0.4">1</text>
<circle cx="82.1" cy="400.4" r="5.75" fill="#fff" stroke="#3a3a3a" stroke-width="0.8"/>
<text transform="translate(82.1 403.95) scale(0.92 1)" stroke="#1a1a1a" stroke-width="0.4">2</text>
<circle cx="231.8" cy="102.7" r="5.75" fill="#fff" stroke="#3a3a3a" stroke-width="0.8"/>
<text transform="translate(231.8 106.25) scale(0.92 1)" stroke="#1a1a1a" stroke-width="0.4">3</text>
<circle cx="245" cy="244.3" r="5.75" fill="#fff" stroke="#3a3a3a" stroke-width="0.8"/>
<text transform="translate(245 247.85) scale(0.92 1)" stroke="#1a1a1a" stroke-width="0.4">4</text>
<circle cx="322" cy="59" r="5.75" fill="#fff" stroke="#3a3a3a" stroke-width="0.8"/>
<text transform="translate(322 62.55) scale(0.92 1)" stroke="#1a1a1a" stroke-width="0.4">5</text>
<circle cx="381.7" cy="248.7" r="5.75" fill="#fff" stroke="#3a3a3a" stroke-width="0.8"/>
<text transform="translate(381.7 252.25) scale(0.92 1)" stroke="#1a1a1a" stroke-width="0.4">A</text>
<circle cx="415.9" cy="131" r="5.75" fill="#fff" stroke="#3a3a3a" stroke-width="0.8"/>
<text transform="translate(415.9 134.55) scale(0.92 1)" stroke="#1a1a1a" stroke-width="0.4">B</text>
<circle cx="437" cy="263.3" r="5.75" fill="#fff" stroke="#3a3a3a" stroke-width="0.8"/>
<text transform="translate(437 266.85) scale(0.92 1)" stroke="#1a1a1a" stroke-width="0.4">C</text>
<circle cx="514.3" cy="175.7" r="5.75" fill="#fff" stroke="#3a3a3a" stroke-width="0.8"/>
<text transform="translate(514.3 179.25) scale(0.92 1)" stroke="#1a1a1a" stroke-width="0.4">2</text>
<circle cx="493" cy="60.2" r="5.75" fill="#fff" stroke="#3a3a3a" stroke-width="0.8"/>
<text transform="translate(493 63.75) scale(0.92 1)" stroke="#1a1a1a" stroke-width="0.4">1</text>
</g>
<g font-family="'Liberation Serif', 'Times New Roman', serif" font-size="12" fill="#1a1a1a" stroke="#1a1a1a" stroke-width="0.4" text-anchor="middle">
<text x="321.7" y="49.7">I</text>
<text x="437.3" y="281.4">II</text>
</g>
<line x1="625.8" y1="65.8" x2="625.8" y2="73.4" stroke="#111" stroke-width="1.3"/>
<circle cx="317.7" cy="70.9" r="20" fill="#f03030" fill-opacity="0.12" stroke="#ff0000" stroke-width="1.25"/>
<circle cx="584.9" cy="70.2" r="20" fill="#f03030" fill-opacity="0.12" stroke="#ff0000" stroke-width="1.25"/>
<line x1="1" y1="68" x2="997.4" y2="68" stroke="#ff0000" stroke-width="1.75"/>
<line x1="1" y1="109" x2="997.4" y2="109" stroke="#ff0000" stroke-width="1.75"/>
<path d="M125.2 272.2 V267.2 M123 269.4 L125.2 267.1 L127.4 269.4" fill="none" stroke="#0a8a0a" stroke-width="1.1"/>
<path d="M210.4 255.8 V250.8 M208.2 253 L210.4 250.7 L212.6 253" fill="none" stroke="#0a8a0a" stroke-width="1.1"/>
<path d="M488.6 121.6 V116.6 M486.4 118.8 L488.6 116.5 L490.8 118.8" fill="none" stroke="#0a8a0a" stroke-width="1.1"/>
<path d="M574.4 97.5 V92.5 M572.2 94.7 L574.4 92.4 L576.6 94.7" fill="none" stroke="#0a8a0a" stroke-width="1.1"/>
<path d="M582.7 91.8 V86.8 M580.5 89 L582.7 86.7 L584.9 89" fill="none" stroke="#0a8a0a" stroke-width="1.1"/>
<path d="M317.5 95.8 V90.8 M315.3 93 L317.5 90.7 L319.7 93" fill="none" stroke="#0a8a0a" stroke-width="1.1"/>
<path d="M61.3 312.3 V317.3 M59.1 315.1 L61.3 317.4 L63.5 315.1" fill="none" stroke="#a81414" stroke-width="1.1"/>
<path d="M82.8 353.2 V358.2 M80.6 356 L82.8 358.3 L85 356" fill="none" stroke="#a81414" stroke-width="1.1"/>
<path d="M381.6 190.4 V195.4 M379.4 193.2 L381.6 195.5 L383.8 193.2" fill="none" stroke="#a81414" stroke-width="1.1"/>
<path d="M437.3 232.2 V237.2 M435.1 235 L437.3 237.3 L439.5 235" fill="none" stroke="#a81414" stroke-width="1.1"/>
<text x="3.9" y="9.2" font-size="7.0" font-weight="bold" fill="#111" stroke="#111" stroke-width="0.15">AUDJPY - 1 week</text>
<text x="4.9" y="18.2" font-size="5.8" fill="#6fa5a5">BB(20,20,2.0,2.0)</text>
<rect x="927" y="0.6" width="64.2" height="64" fill="#f4282c"/>
<text transform="translate(959.6 34.1) scale(1.05 1)" font-family="'Liberation Serif', 'Times New Roman', serif" font-size="17.7" fill="#fff" text-anchor="middle" stroke="#fff" stroke-width="0.5">FxPro</text>
<text x="959.2" y="42.55" font-size="6.1" fill="#fff" text-anchor="middle">Trade Like a Pro</text>
<rect x="996.2" y="1" width="2.2" height="415" fill="#e6e6e6"/>
<line x1="1000.4" y1="0" x2="1000.4" y2="416.6" stroke="#555" stroke-width="1.1"/>
<g stroke="#969696" stroke-width="0.9">
<line x1="998" y1="0.67" x2="1000.4" y2="0.67"/>
<line x1="998" y1="3.21" x2="1000.4" y2="3.21"/>
<line x1="998" y1="5.76" x2="1000.4" y2="5.76"/>
<line x1="998" y1="8.31" x2="1000.4" y2="8.31"/>
<line x1="998" y1="10.85" x2="1000.4" y2="10.85"/>
<line x1="998" y1="13.4" x2="1000.4" y2="13.4"/>
<line x1="998" y1="15.95" x2="1000.4" y2="15.95"/>
<line x1="998" y1="18.49" x2="1000.4" y2="18.49"/>
<line x1="998" y1="21.04" x2="1000.4" y2="21.04"/>
<line x1="998" y1="23.59" x2="1000.4" y2="23.59"/>
<line x1="998" y1="26.13" x2="1000.4" y2="26.13"/>
<line x1="998" y1="28.68" x2="1000.4" y2="28.68"/>
<line x1="998" y1="31.23" x2="1000.4" y2="31.23"/>
<line x1="998" y1="33.77" x2="1000.4" y2="33.77"/>
<line x1="998" y1="36.32" x2="1000.4" y2="36.32"/>
<line x1="998" y1="38.87" x2="1000.4" y2="38.87"/>
<line x1="998" y1="41.41" x2="1000.4" y2="41.41"/>
<line x1="998" y1="43.96" x2="1000.4" y2="43.96"/>
<line x1="998" y1="46.51" x2="1000.4" y2="46.51"/>
<line x1="998" y1="49.05" x2="1000.4" y2="49.05"/>
<line x1="998" y1="51.6" x2="1000.4" y2="51.6"/>
<line x1="998" y1="54.15" x2="1000.4" y2="54.15"/>
<line x1="998" y1="56.69" x2="1000.4" y2="56.69"/>
<line x1="998" y1="59.24" x2="1000.4" y2="59.24"/>
<line x1="998" y1="61.79" x2="1000.4" y2="61.79"/>
<line x1="998" y1="64.33" x2="1000.4" y2="64.33"/>
<line x1="998" y1="66.88" x2="1000.4" y2="66.88"/>
<line x1="998" y1="69.43" x2="1000.4" y2="69.43"/>
<line x1="998" y1="71.97" x2="1000.4" y2="71.97"/>
<line x1="998" y1="74.52" x2="1000.4" y2="74.52"/>
<line x1="998" y1="77.07" x2="1000.4" y2="77.07"/>
<line x1="998" y1="79.61" x2="1000.4" y2="79.61"/>
<line x1="998" y1="82.16" x2="1000.4" y2="82.16"/>
<line x1="998" y1="84.71" x2="1000.4" y2="84.71"/>
<line x1="998" y1="87.25" x2="1000.4" y2="87.25"/>
<line x1="998" y1="89.8" x2="1000.4" y2="89.8"/>
<line x1="998" y1="92.35" x2="1000.4" y2="92.35"/>
<line x1="998" y1="94.89" x2="1000.4" y2="94.89"/>
<line x1="998" y1="97.44" x2="1000.4" y2="97.44"/>
<line x1="998" y1="99.99" x2="1000.4" y2="99.99"/>
<line x1="998" y1="102.53" x2="1000.4" y2="102.53"/>
<line x1="998" y1="105.08" x2="1000.4" y2="105.08"/>
<line x1="998" y1="107.63" x2="1000.4" y2="107.63"/>
<line x1="998" y1="110.17" x2="1000.4" y2="110.17"/>
<line x1="998" y1="112.72" x2="1000.4" y2="112.72"/>
<line x1="998" y1="115.27" x2="1000.4" y2="115.27"/>
<line x1="998" y1="117.81" x2="1000.4" y2="117.81"/>
<line x1="998" y1="120.36" x2="1000.4" y2="120.36"/>
<line x1="998" y1="122.91" x2="1000.4" y2="122.91"/>
<line x1="998" y1="125.45" x2="1000.4" y2="125.45"/>
<line x1="998" y1="128" x2="1000.4" y2="128"/>
<line x1="998" y1="130.55" x2="1000.4" y2="130.55"/>
<line x1="998" y1="133.09" x2="1000.4" y2="133.09"/>
<line x1="998" y1="135.64" x2="1000.4" y2="135.64"/>
<line x1="998" y1="138.19" x2="1000.4" y2="138.19"/>
<line x1="998" y1="140.73" x2="1000.4" y2="140.73"/>
<line x1="998" y1="143.28" x2="1000.4" y2="143.28"/>
<line x1="998" y1="145.83" x2="1000.4" y2="145.83"/>
<line x1="998" y1="148.37" x2="1000.4" y2="148.37"/>
<line x1="998" y1="150.92" x2="1000.4" y2="150.92"/>
<line x1="998" y1="153.47" x2="1000.4" y2="153.47"/>
<line x1="998" y1="156.01" x2="1000.4" y2="156.01"/>
<line x1="998" y1="158.56" x2="1000.4" y2="158.56"/>
<line x1="998" y1="161.11" x2="1000.4" y2="161.11"/>
<line x1="998" y1="163.65" x2="1000.4" y2="163.65"/>
<line x1="998" y1="166.2" x2="1000.4" y2="166.2"/>
<line x1="998" y1="168.75" x2="1000.4" y2="168.75"/>
<line x1="998" y1="171.29" x2="1000.4" y2="171.29"/>
<line x1="998" y1="173.84" x2="1000.4" y2="173.84"/>
<line x1="998" y1="176.39" x2="1000.4" y2="176.39"/>
<line x1="998" y1="178.93" x2="1000.4" y2="178.93"/>
<line x1="998" y1="181.48" x2="1000.4" y2="181.48"/>
<line x1="998" y1="184.03" x2="1000.4" y2="184.03"/>
<line x1="998" y1="186.57" x2="1000.4" y2="186.57"/>
<line x1="998" y1="189.12" x2="1000.4" y2="189.12"/>
<line x1="998" y1="191.67" x2="1000.4" y2="191.67"/>
<line x1="998" y1="194.21" x2="1000.4" y2="194.21"/>
<line x1="998" y1="196.76" x2="1000.4" y2="196.76"/>
<line x1="998" y1="199.31" x2="1000.4" y2="199.31"/>
<line x1="998" y1="201.85" x2="1000.4" y2="201.85"/>
<line x1="998" y1="204.4" x2="1000.4" y2="204.4"/>
<line x1="998" y1="206.95" x2="1000.4" y2="206.95"/>
<line x1="998" y1="209.49" x2="1000.4" y2="209.49"/>
<line x1="998" y1="212.04" x2="1000.4" y2="212.04"/>
<line x1="998" y1="214.59" x2="1000.4" y2="214.59"/>
<line x1="998" y1="217.13" x2="1000.4" y2="217.13"/>
<line x1="998" y1="219.68" x2="1000.4" y2="219.68"/>
<line x1="998" y1="222.23" x2="1000.4" y2="222.23"/>
<line x1="998" y1="224.77" x2="1000.4" y2="224.77"/>
<line x1="998" y1="227.32" x2="1000.4" y2="227.32"/>
<line x1="998" y1="229.87" x2="1000.4" y2="229.87"/>
<line x1="998" y1="232.41" x2="1000.4" y2="232.41"/>
<line x1="998" y1="234.96" x2="1000.4" y2="234.96"/>
<line x1="998" y1="237.51" x2="1000.4" y2="237.51"/>
<line x1="998" y1="240.05" x2="1000.4" y2="240.05"/>
<line x1="998" y1="242.6" x2="1000.4" y2="242.6"/>
<line x1="998" y1="245.15" x2="1000.4" y2="245.15"/>
<line x1="998" y1="247.69" x2="1000.4" y2="247.69"/>
<line x1="998" y1="250.24" x2="1000.4" y2="250.24"/>
<line x1="998" y1="252.79" x2="1000.4" y2="252.79"/>
<line x1="998" y1="255.33" x2="1000.4" y2="255.33"/>
<line x1="998" y1="257.88" x2="1000.4" y2="257.88"/>
<line x1="998" y1="260.43" x2="1000.4" y2="260.43"/>
<line x1="998" y1="262.97" x2="1000.4" y2="262.97"/>
<line x1="998" y1="265.52" x2="1000.4" y2="265.52"/>
<line x1="998" y1="268.07" x2="1000.4" y2="268.07"/>
<line x1="998" y1="270.61" x2="1000.4" y2="270.61"/>
<line x1="998" y1="273.16" x2="1000.4" y2="273.16"/>
<line x1="998" y1="275.71" x2="1000.4" y2="275.71"/>
<line x1="998" y1="278.25" x2="1000.4" y2="278.25"/>
<line x1="998" y1="280.8" x2="1000.4" y2="280.8"/>
<line x1="998" y1="283.35" x2="1000.4" y2="283.35"/>
<line x1="998" y1="285.89" x2="1000.4" y2="285.89"/>
<line x1="998" y1="288.44" x2="1000.4" y2="288.44"/>
<line x1="998" y1="290.99" x2="1000.4" y2="290.99"/>
<line x1="998" y1="293.53" x2="1000.4" y2="293.53"/>
<line x1="998" y1="296.08" x2="1000.4" y2="296.08"/>
<line x1="998" y1="298.63" x2="1000.4" y2="298.63"/>
<line x1="998" y1="301.17" x2="1000.4" y2="301.17"/>
<line x1="998" y1="303.72" x2="1000.4" y2="303.72"/>
<line x1="998" y1="306.27" x2="1000.4" y2="306.27"/>
<line x1="998" y1="308.81" x2="1000.4" y2="308.81"/>
<line x1="998" y1="311.36" x2="1000.4" y2="311.36"/>
<line x1="998" y1="313.91" x2="1000.4" y2="313.91"/>
<line x1="998" y1="316.45" x2="1000.4" y2="316.45"/>
<line x1="998" y1="319" x2="1000.4" y2="319"/>
<line x1="998" y1="321.55" x2="1000.4" y2="321.55"/>
<line x1="998" y1="324.09" x2="1000.4" y2="324.09"/>
<line x1="998" y1="326.64" x2="1000.4" y2="326.64"/>
<line x1="998" y1="329.19" x2="1000.4" y2="329.19"/>
<line x1="998" y1="331.73" x2="1000.4" y2="331.73"/>
<line x1="998" y1="334.28" x2="1000.4" y2="334.28"/>
<line x1="998" y1="336.83" x2="1000.4" y2="336.83"/>
<line x1="998" y1="339.37" x2="1000.4" y2="339.37"/>
<line x1="998" y1="341.92" x2="1000.4" y2="341.92"/>
<line x1="998" y1="344.47" x2="1000.4" y2="344.47"/>
<line x1="998" y1="347.01" x2="1000.4" y2="347.01"/>
<line x1="998" y1="349.56" x2="1000.4" y2="349.56"/>
<line x1="998" y1="352.11" x2="1000.4" y2="352.11"/>
<line x1="998" y1="354.65" x2="1000.4" y2="354.65"/>
<line x1="998" y1="357.2" x2="1000.4" y2="357.2"/>
<line x1="998" y1="359.75" x2="1000.4" y2="359.75"/>
<line x1="998" y1="362.29" x2="1000.4" y2="362.29"/>
<line x1="998" y1="364.84" x2="1000.4" y2="364.84"/>
<line x1="998" y1="367.39" x2="1000.4" y2="367.39"/>
<line x1="998" y1="369.93" x2="1000.4" y2="369.93"/>
<line x1="998" y1="372.48" x2="1000.4" y2="372.48"/>
<line x1="998" y1="375.03" x2="1000.4" y2="375.03"/>
<line x1="998" y1="377.57" x2="1000.4" y2="377.57"/>
<line x1="998" y1="380.12" x2="1000.4" y2="380.12"/>
<line x1="998" y1="382.67" x2="1000.4" y2="382.67"/>
<line x1="998" y1="385.21" x2="1000.4" y2="385.21"/>
<line x1="998" y1="387.76" x2="1000.4" y2="387.76"/>
<line x1="998" y1="390.31" x2="1000.4" y2="390.31"/>
<line x1="998" y1="392.85" x2="1000.4" y2="392.85"/>
<line x1="998" y1="395.4" x2="1000.4" y2="395.4"/>
<line x1="998" y1="397.95" x2="1000.4" y2="397.95"/>
<line x1="998" y1="400.49" x2="1000.4" y2="400.49"/>
<line x1="998" y1="403.04" x2="1000.4" y2="403.04"/>
<line x1="998" y1="405.59" x2="1000.4" y2="405.59"/>
<line x1="998" y1="408.13" x2="1000.4" y2="408.13"/>
<line x1="998" y1="410.68" x2="1000.4" y2="410.68"/>
<line x1="998" y1="413.23" x2="1000.4" y2="413.23"/>
</g>
<g font-size="6.3" fill="#2a2a2a">
<line x1="996.8" y1="13.4" x2="1000.4" y2="13.4" stroke="#555" stroke-width="1"/>
<text x="1002" y="15.7" stroke="#2a2a2a" stroke-width="0.12">102.00</text>
<line x1="996.8" y1="43.96" x2="1000.4" y2="43.96" stroke="#555" stroke-width="1"/>
<text x="1002" y="46.26" stroke="#2a2a2a" stroke-width="0.12">100.00</text>
<line x1="996.8" y1="74.52" x2="1000.4" y2="74.52" stroke="#555" stroke-width="1"/>
<text x="1002" y="76.82" stroke="#2a2a2a" stroke-width="0.12">98.00</text>
<line x1="996.8" y1="105.08" x2="1000.4" y2="105.08" stroke="#555" stroke-width="1"/>
<text x="1002" y="107.38" stroke="#2a2a2a" stroke-width="0.12">96.00</text>
<line x1="996.8" y1="135.64" x2="1000.4" y2="135.64" stroke="#555" stroke-width="1"/>
<text x="1002" y="137.94" stroke="#2a2a2a" stroke-width="0.12">94.00</text>
<line x1="996.8" y1="166.2" x2="1000.4" y2="166.2" stroke="#555" stroke-width="1"/>
<text x="1002" y="168.5" stroke="#2a2a2a" stroke-width="0.12">92.00</text>
<line x1="996.8" y1="196.76" x2="1000.4" y2="196.76" stroke="#555" stroke-width="1"/>
<text x="1002" y="199.06" stroke="#2a2a2a" stroke-width="0.12">90.00</text>
<line x1="996.8" y1="227.32" x2="1000.4" y2="227.32" stroke="#555" stroke-width="1"/>
<text x="1002" y="229.62" stroke="#2a2a2a" stroke-width="0.12">88.00</text>
<line x1="996.8" y1="257.88" x2="1000.4" y2="257.88" stroke="#555" stroke-width="1"/>
<text x="1002" y="260.18" stroke="#2a2a2a" stroke-width="0.12">86.00</text>
<line x1="996.8" y1="288.44" x2="1000.4" y2="288.44" stroke="#555" stroke-width="1"/>
<text x="1002" y="290.74" stroke="#2a2a2a" stroke-width="0.12">84.00</text>
<line x1="996.8" y1="319" x2="1000.4" y2="319" stroke="#555" stroke-width="1"/>
<text x="1002" y="321.3" stroke="#2a2a2a" stroke-width="0.12">82.00</text>
<line x1="996.8" y1="349.56" x2="1000.4" y2="349.56" stroke="#555" stroke-width="1"/>
<text x="1002" y="351.86" stroke="#2a2a2a" stroke-width="0.12">80.00</text>
<line x1="996.8" y1="380.12" x2="1000.4" y2="380.12" stroke="#555" stroke-width="1"/>
<text x="1002" y="382.42" stroke="#2a2a2a" stroke-width="0.12">78.00</text>
<line x1="996.8" y1="410.68" x2="1000.4" y2="410.68" stroke="#555" stroke-width="1"/>
<text x="1002" y="412.98" stroke="#2a2a2a" stroke-width="0.12">76.00</text>
</g>
<line x1="1" y1="414.3" x2="999.4" y2="414.3" stroke="#cdc9c3" stroke-width="0.7"/>
<line x1="1" y1="416.7" x2="1000.9" y2="416.7" stroke="#9c9c9c" stroke-width="1.5"/>
<clipPath id="xc"><rect x="0" y="412" width="1024" height="12.9"/></clipPath>
<g font-size="6.5" fill="#2a2a2a" text-anchor="middle" clip-path="url(#xc)">
<line x1="54.5" y1="413.9" x2="54.5" y2="416.4" stroke="#333" stroke-width="0.9"/>
<text x="53.4" y="423.8" stroke="#2a2a2a" stroke-width="0.12">Jul-2021</text>
<line x1="92.5" y1="413.9" x2="92.5" y2="416.4" stroke="#333" stroke-width="0.9"/>
<text x="92.6" y="423.8" stroke="#2a2a2a" stroke-width="0.12">Sep-2021</text>
<line x1="167" y1="413.9" x2="167" y2="416.4" stroke="#333" stroke-width="0.9"/>
<text x="166.6" y="423.8" stroke="#2a2a2a" stroke-width="0.12">Jan-2022</text>
<line x1="203.25" y1="413.9" x2="203.25" y2="416.4" stroke="#333" stroke-width="0.9"/>
<text x="203.35" y="423.8" stroke="#2a2a2a" stroke-width="0.12">Mar-2022</text>
<line x1="240.5" y1="413.9" x2="240.5" y2="416.4" stroke="#333" stroke-width="0.9"/>
<text x="240.6" y="423.8" stroke="#2a2a2a" stroke-width="0.12">May-2022</text>
<line x1="277.5" y1="413.9" x2="277.5" y2="416.4" stroke="#333" stroke-width="0.9"/>
<text x="276.4" y="423.8" stroke="#2a2a2a" stroke-width="0.12">Jul-2022</text>
<line x1="315.5" y1="413.9" x2="315.5" y2="416.4" stroke="#333" stroke-width="0.9"/>
<text x="315.6" y="423.8" stroke="#2a2a2a" stroke-width="0.12">Sep-2022</text>
<line x1="390.5" y1="413.9" x2="390.5" y2="416.4" stroke="#333" stroke-width="0.9"/>
<text x="390.1" y="423.8" stroke="#2a2a2a" stroke-width="0.12">Jan-2023</text>
<line x1="426.5" y1="413.9" x2="426.5" y2="416.4" stroke="#333" stroke-width="0.9"/>
<text x="426.6" y="423.8" stroke="#2a2a2a" stroke-width="0.12">Mar-2023</text>
<line x1="463.25" y1="413.9" x2="463.25" y2="416.4" stroke="#333" stroke-width="0.9"/>
<text x="463.35" y="423.8" stroke="#2a2a2a" stroke-width="0.12">May-2023</text>
<line x1="500.5" y1="413.9" x2="500.5" y2="416.4" stroke="#333" stroke-width="0.9"/>
<text x="499.4" y="423.8" stroke="#2a2a2a" stroke-width="0.12">Jul-2023</text>
<line x1="538.25" y1="413.9" x2="538.25" y2="416.4" stroke="#333" stroke-width="0.9"/>
<text x="538.35" y="423.8" stroke="#2a2a2a" stroke-width="0.12">Sep-2023</text>
<line x1="613.75" y1="413.9" x2="613.75" y2="416.4" stroke="#333" stroke-width="0.9"/>
<text x="613.35" y="423.8" stroke="#2a2a2a" stroke-width="0.12">Jan-2024</text>
<line x1="649.5" y1="413.9" x2="649.5" y2="416.4" stroke="#333" stroke-width="0.9"/>
<text x="649.6" y="423.8" stroke="#2a2a2a" stroke-width="0.12">Mar-2024</text>
<line x1="687" y1="413.9" x2="687" y2="416.4" stroke="#333" stroke-width="0.9"/>
<text x="687.1" y="423.8" stroke="#2a2a2a" stroke-width="0.12">May-2024</text>
<line x1="724.25" y1="413.9" x2="724.25" y2="416.4" stroke="#333" stroke-width="0.9"/>
<text x="723.15" y="423.8" stroke="#2a2a2a" stroke-width="0.12">Jul-2024</text>
<line x1="761.25" y1="413.9" x2="761.25" y2="416.4" stroke="#333" stroke-width="0.9"/>
<text x="761.35" y="423.8" stroke="#2a2a2a" stroke-width="0.12">Sep-2024</text>
<line x1="836.5" y1="413.9" x2="836.5" y2="416.4" stroke="#333" stroke-width="0.9"/>
<text x="836.1" y="423.8" stroke="#2a2a2a" stroke-width="0.12">Jan-2025</text>
<line x1="872.5" y1="413.9" x2="872.5" y2="416.4" stroke="#333" stroke-width="0.9"/>
<text x="872.6" y="423.8" stroke="#2a2a2a" stroke-width="0.12">Mar-2025</text>
<line x1="909.5" y1="413.9" x2="909.5" y2="416.4" stroke="#333" stroke-width="0.9"/>
<text x="909.6" y="423.8" stroke="#2a2a2a" stroke-width="0.12">May-2025</text>
<line x1="947.25" y1="413.9" x2="947.25" y2="416.4" stroke="#333" stroke-width="0.9"/>
<text x="946.15" y="423.8" stroke="#2a2a2a" stroke-width="0.12">Jul-2025</text>
<line x1="985.5" y1="413.9" x2="985.5" y2="416.4" stroke="#333" stroke-width="0.9"/>
</g>
<line x1="0" y1="426.4" x2="1024" y2="426.4" stroke="#5a5a5a" stroke-width="1.0"/>
<line x1="1" y1="437.5" x2="998.4" y2="437.5" stroke="#4a4a4a" stroke-width="0.9"/>
<line x1="1" y1="467.5" x2="965" y2="467.5" stroke="#4a4a4a" stroke-width="0.9"/>
<line x1="1" y1="452.4" x2="998.4" y2="452.4" stroke="#2a2a2a" stroke-width="0.85" stroke-dasharray="2.2 1.0"/>
<polyline points="0,437.5 5,439.4 10,439 15,436.5 20,436.9 25,439.75 31.25,441.25 36.25,443.75 40,451.25 43.75,453.5 48.75,455.6 52.5,458.75 57.5,464 62.5,466.25 67.5,468.1 72.5,468.5 78.75,470.6 83.75,466.9 87.5,463.1 92.5,460.6 98.75,459.75 105,458.1 108.75,454.4 112.5,448.75 117.5,442.5 122.5,438.1 126.25,438.1 128.75,440 133.75,443.75 138.75,450 142.5,455.6 146.9,459.4 151.25,461.25 156.25,458.1 160,455 164.4,452.75 168.75,452.75 172.5,454.4 176.9,457.25 181.25,458.5 185.6,456.25 190,451.9 195,445.6 200,439.75 205,435 210,431.9 215,432.25 220,432.75 225,432.5 230,434 235,436.25 240,439.5 244.4,442.5 248.75,444 253.75,441.25 258.75,439.4 263.75,438.75 268.75,441.9 273.75,444 278.75,444.4 283.75,443.5 288.75,444.4 293.75,444 298.75,442.75 303.75,442.25 308.75,441 313.75,438.1 317.5,438.1 321.25,443.5 326.25,450.6 330.6,455.6 335,459.4 339.4,458.75 343.75,456.9 348.1,455.6 352.5,457.75 357.5,458.1 361.25,459.4 364.4,461.9 368.75,463.75 373.1,467.25 377.5,467.75 381.9,466.25 386.25,464 390.6,463.1 395,461.25 399.4,458.1 403.75,456.25 408.1,454.4 412.5,451.25 416.9,448.75 420.6,446.5 424.4,450.6 428.75,456.25 433.1,460.6 437.5,461.9 441.9,461.9 446.25,459.4 450.6,456.5 455,453.5 459.4,450 463.75,448.1 468.1,445 472.5,441.9 476.9,437.5 481.25,433.5 485,431.5 488.75,431.9 493.1,432.75 497.5,435 501.9,436.9 506.25,438.1 510.6,441 515,444.4 519.4,447.25 523.75,450 528.1,451.5 531.9,451.25 536.25,452.5 540.6,451.9 545,449.4 549.4,445.25 553.75,444 558.1,446.5 561.9,447.5 566.25,447.5 570.6,443.1 575,440.6 579.4,438.75 583.75,435.6 587.5,434.75 591.9,439 596.25,445 600.6,445.6 604.4,447.5 608.75,446 613.1,445.25 617.5,442.25 621.9,441 626.25,442.5 630,441.9 634.4,439.75" fill="none" stroke="#c05050" stroke-width="0.8" stroke-linejoin="round"/>
<polyline points="0,437.5 5.6,440.6 10.6,439 13.75,435.6 18.75,435.6 22.5,440 28.75,441.25 35,443.1 37.5,447.5 40,460 43.75,455.6 48.1,456.25 52.5,461.25 56.9,469 61.25,467.25 65.6,469.4 70,468.1 73.75,469.4 78.5,471.9 82.5,466.25 86.9,458.1 91.25,458.1 95.6,460.25 100,459 104.4,457.5 108.1,451.9 112.5,440 116.9,438.1 120.6,434 125,437.5 129.4,440.6 133.75,445.6 138.1,453.75 142.5,465 146.9,463.1 151.25,462.5 155.6,456.9 160,450.6 163.75,450 168.1,452.25 172.5,455 176.9,460.6 181.25,460.25 185,453.1 189.4,447.5 193.75,441.25 198.1,436.25 202.5,432.75 206.9,430.25 210.6,429.6 215,432.75 219.4,433.1 223.75,431.9 227.5,433.5 231.9,436.9 236.25,437.25 240.6,442.5 245,445.25 249.4,445 253.75,438.1 257.75,436.5 262.5,438.5 266.5,440.6 270.6,446.5 275,446.5 279.4,444 283.5,442.5 288.1,444.75 292.25,445.6 296.5,441 300.9,442.25 305,441.9 309.4,440 313.5,434.4 317.9,438.1 322.25,449.4 326.25,456.25 330.6,460.6 334.75,463.5 339,458.75 343.4,455 347.5,453.1 351.9,457.75 356,457.75 360.25,458.5 364.75,466.5 368.75,465.25 373.5,469.6 377.75,468.1 381.9,466.25 386.25,460.6 390.4,462.5 394.75,461 399,453.75 403.1,454.6 407.5,454.4 411.6,448.75 415.9,446.25 420.25,443.75 424.6,453.75 428.75,460 433.1,466 437.5,462.25 441.6,462.25 446,456.9 450.25,453.75 454.4,451.25 458.75,446.25 462.9,447.75 467.1,442.25 471.5,439.75 475.9,434 480,431.25 484.4,429.1 488.5,431.5 492.9,432.75 497.1,436.25 501.25,438.5 505.6,437.75 510,442.5 514.1,448.1 518.4,448.75 522.75,452.75 527.1,453.1 531.25,451.6 535.6,453.5 540,451.6 544.1,448.1 548.5,441.9 552.75,441.9 557.1,447.5 561.5,448.75 565.6,448.1 570,437.5 574.4,438.1 578.75,437.25 582.9,433.1 587.1,433.1 591.25,443.1 595.6,451 600,446.5 604.1,448.1 608.5,444.4 612.9,444.75 617.1,439.75 621.25,439.75 625.6,443.5 630,441.25 634.4,436.5" fill="none" stroke="#222" stroke-width="0.9" stroke-linejoin="round"/>
<text x="3.8" y="436.1" font-size="6.4" font-weight="bold" fill="#111" stroke="#111" stroke-width="0.2">STO Slow(14,3)</text>
<rect x="996.2" y="426.4" width="2.2" height="37.6" fill="#e6e6e6"/>
<line x1="1000.4" y1="426.4" x2="1000.4" y2="464" stroke="#555" stroke-width="1.1"/>
<line x1="998" y1="432" x2="1000.4" y2="432" stroke="#969696" stroke-width="0.9"/>
<line x1="998" y1="442.5" x2="1000.4" y2="442.5" stroke="#969696" stroke-width="0.9"/>
<line x1="998" y1="447.4" x2="1000.4" y2="447.4" stroke="#969696" stroke-width="0.9"/>
<line x1="998" y1="457.5" x2="1000.4" y2="457.5" stroke="#969696" stroke-width="0.9"/>
<line x1="998" y1="462" x2="1000.4" y2="462" stroke="#969696" stroke-width="0.9"/>
<text x="1002" y="449.7" font-size="6.3" fill="#2a2a2a" stroke="#2a2a2a" stroke-width="0.12">60.00</text>
<line x1="996.8" y1="447.4" x2="1000.4" y2="447.4" stroke="#555" stroke-width="1"/>
<path d="M997 62.3 L1000.6 58.3 H1018.4 Q1019.4 58.3 1019.4 59.3 V65.3 Q1019.4 66.3 1018.4 66.3 H1000.6 Z" fill="#fff" stroke="#555" stroke-width="0.8" stroke-linejoin="round"/>
<text x="1002" y="64.6" font-size="6.3" fill="#2a2a2a" stroke="#2a2a2a" stroke-width="0.12">98.81</text>
<path d="M997 437.2 L1000.6 433.2 H1018.4 Q1019.4 433.2 1019.4 434.2 V440.2 Q1019.4 441.2 1018.4 441.2 H1000.6 Z" fill="#fff" stroke="#555" stroke-width="0.8" stroke-linejoin="round"/>
<text x="1002" y="439.5" font-size="6.3" fill="#2a2a2a" stroke="#2a2a2a" stroke-width="0.12">81.22</text>
<path d="M997 452.6 L1000.6 448.6 H1018.4 Q1019.4 448.6 1019.4 449.6 V455.6 Q1019.4 456.6 1018.4 456.6 H1000.6 Z" fill="#fff" stroke="#555" stroke-width="0.8" stroke-linejoin="round"/>
<text x="1002" y="454.9" font-size="6.3" fill="#2a2a2a" stroke="#2a2a2a" stroke-width="0.12">50.00</text>
<line x1="0" y1="0.4" x2="1024" y2="0.4" stroke="#555" stroke-width="1.0"/>
<line x1="0.5" y1="0" x2="0.5" y2="475" stroke="#555" stroke-width="1.0"/>
<line x1="1023.3" y1="0" x2="1023.3" y2="475" stroke="#555" stroke-width="1.2"/>
<line x1="0" y1="473.9" x2="1024" y2="473.9" stroke="#555" stroke-width="1.6"/>
</svg>
</body></html>
